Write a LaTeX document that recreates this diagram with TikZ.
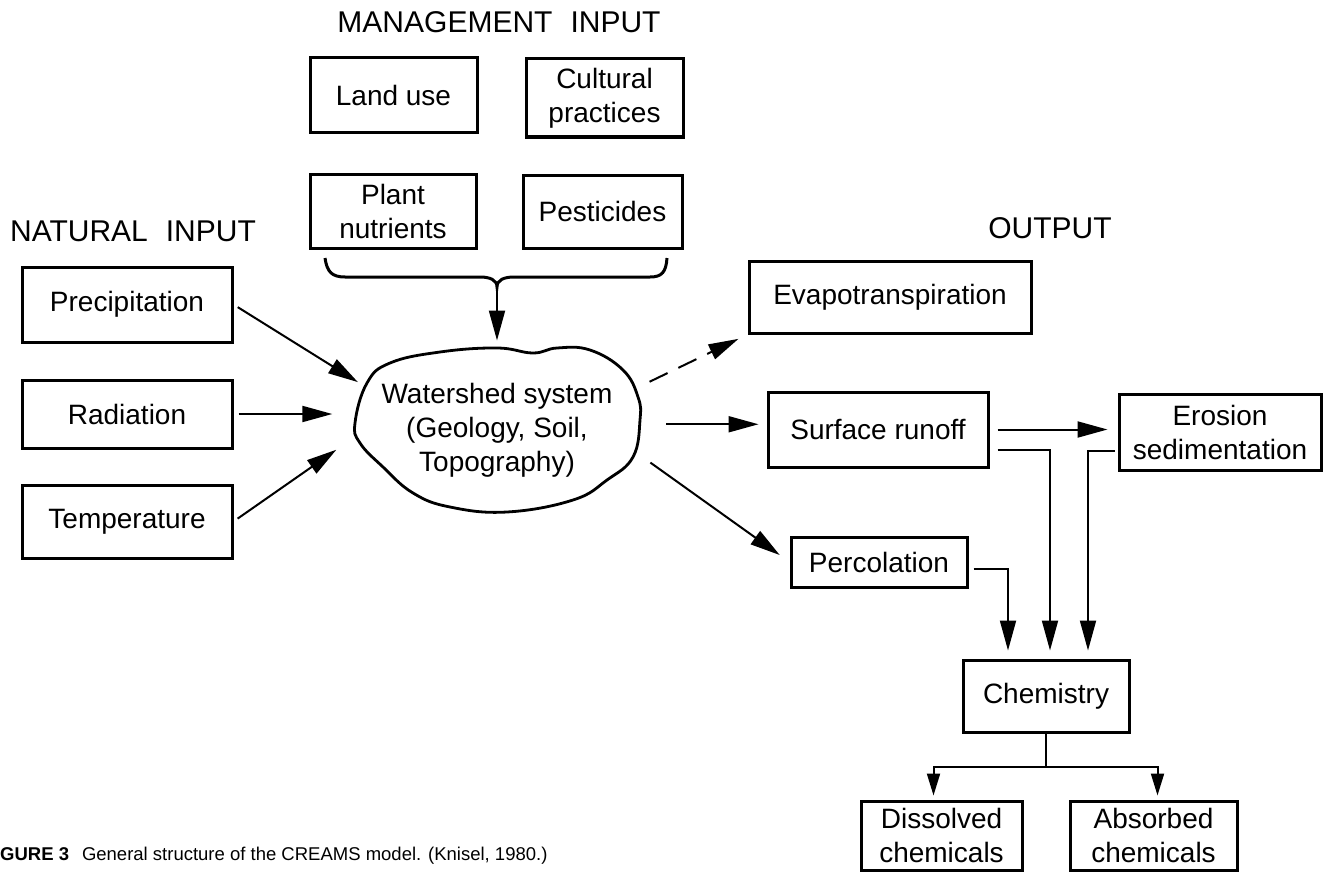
\documentclass[tikz,border=0pt]{standalone}
\usepackage{fontspec}
\setmainfont{Liberation Sans}
\usetikzlibrary{arrows.meta,shapes.geometric}
\begin{document}
\begin{tikzpicture}[x=1pt, y=-1pt,
  block/.style={draw=black, line width=3pt, inner sep=0pt, align=center, font=\fontsize{28}{34}\selectfont},
  heading/.style={inner sep=0pt, font=\fontsize{30}{36}\selectfont},
  flow/.style={line width=2pt, -{Triangle[length=30pt, width=16pt]}},
  branch/.style={line width=2pt, -{Triangle[length=22pt, width=13pt]}},
  outline/.style={line width=2.8pt}]
  \useasboundingbox (0,0) rectangle (1327,872);
  \node [heading] (Manage) at (499,22) {MANAGEMENT\hspace{0.6em}INPUT};
  \node [heading] (Natural) at (133,231) {NATURAL\hspace{0.6em}INPUT};
  \node [heading] (Output) at (1050,228) {OUTPUT};
  \node [block, minimum width=167pt, minimum height=75pt] (Landuse) at (393.5,95.5) {Land use};
  \node [block, minimum width=157pt, minimum height=78pt] (Cultural) at (604.5,98) {Cultural\\practices};
  \node [block, minimum width=166pt, minimum height=74pt] (Plant) at (393,211) {Plant\\nutrients};
  \node [block, minimum width=159pt, minimum height=73pt] (Pest) at (602.5,211.5) {Pesticides};
  \node [block, minimum width=210pt, minimum height=75pt] (Precip) at (127,304.5) {Precipitation};
  \node [block, minimum width=210pt, minimum height=68pt] (Radiation) at (127,414) {Radiation};
  \node [block, minimum width=210pt, minimum height=73pt] (Temp) at (127,521.5) {Temperature};
  \node [block, draw=none, ellipse, minimum width=300pt, minimum height=176pt] (Watershed) at (497,430)
    {Watershed system\\(Geology, Soil,\\Topography)};
  \draw [outline] plot [smooth cycle, tension=0.7] coordinates {(355,423) (367,383) (390,363) (440,352)
    (497,348) (533,353) (557,348) (590,350) (623,370) (638,397) (640,420) (633,457) (607,480)
    (573,500) (507,512) (450,507) (413,493) (383,467) (360,443)};
  \node [block, minimum width=282pt, minimum height=72pt] (Evap) at (890,297) {Evapotranspiration};
  \node [block, minimum width=220pt, minimum height=75pt] (Runoff) at (878,429.5) {Surface runoff};
  \node [block, minimum width=202pt, minimum height=76pt] (Erosion) at (1220,432) {Erosion\\sedimentation};
  \node [block, minimum width=176pt, minimum height=50pt] (Percol) at (879,562) {Percolation};
  \node [block, minimum width=166pt, minimum height=72pt] (Chem) at (1046,696) {Chemistry};
  \node [block, minimum width=161pt, minimum height=69pt] (Dissolved) at (941.5,835.5) {Dissolved\\chemicals};
  \node [block, minimum width=167pt, minimum height=69pt] (Absorbed) at (1153.5,835.5) {Absorbed\\chemicals};
  \node [anchor=west, inner sep=0pt, font=\fontsize{18.5}{22}\selectfont] (Caption) at (0,856)
    {\textbf{GURE 3}\hspace{0.7em}General structure of the CREAMS model. (Knisel, 1980.)};
  \coordinate (Cusp) at (497,287);
  \draw [outline, line width=3pt] (325,258) .. controls (327,272) and (332,277) .. (345,277) -- (480,277)
    .. controls (490,277) and (497,280) .. (Cusp) .. controls (497,280) and (504,277) .. (514,277)
    -- (650,277) .. controls (662,277) and (666,272) .. (667,258);
  \draw [flow] (Cusp) -- (Watershed.north);
  \draw [flow, shorten <=5pt] (Precip.east) -- (Watershed.161);
  \draw [flow, shorten <=5pt] (Radiation.east) -- (Radiation.east -| Watershed.west);
  \draw [flow, shorten <=5pt] (Temp.east) -- (Watershed.187);
  \draw [flow, dash pattern=on 20pt off 12pt, shorten <=10pt, shorten >=10pt] (Watershed.17) -- (Evap.south west);
  \draw [flow, shorten <=5pt, shorten >=8pt] (Watershed.2) -- (Watershed.2 -| Runoff.west);
  \draw [flow, shorten >=12pt] (Watershed.-12) -- (Percol.west);
  \draw [flow, shorten <=8pt, shorten >=10pt] (Runoff.east) -- (Runoff.east -| Erosion.west);
  \draw [flow, shorten <=8pt, shorten >=8pt] ([yshift=-20pt]Runoff.east) -| ([xshift=4pt]Chem.north);
  \draw [flow, shorten <=3pt, shorten >=8pt] ([yshift=-19pt]Erosion.west) -| ([xshift=42pt]Chem.north);
  \draw [flow, shorten <=5pt, shorten >=8pt] ([yshift=-7pt]Percol.east) -| ([xshift=-38pt]Chem.north);
  \coordinate (Split) at ([yshift=-33pt]Chem.south);
  \draw [line width=2pt] (Chem.south) -- (Split);
  \draw [branch, shorten >=4pt] (Split) -| ([xshift=-8pt]Dissolved.north);
  \draw [branch, shorten >=4pt] (Split) -| ([xshift=4pt]Absorbed.north);
\end{tikzpicture}
\end{document}
